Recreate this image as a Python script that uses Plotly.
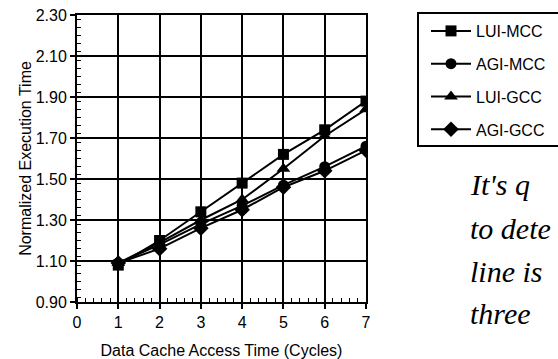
import plotly.graph_objects as go

# Data cache access time (cycles) vs. normalized execution time
cycles = [1, 2, 3, 4, 5, 6, 7]
lui_mcc = [1.08, 1.20, 1.34, 1.48, 1.62, 1.74, 1.88]
agi_mcc = [1.09, 1.18, 1.28, 1.37, 1.47, 1.56, 1.66]
lui_gcc = [1.09, 1.19, 1.30, 1.40, 1.55, 1.71, 1.84]
agi_gcc = [1.09, 1.16, 1.26, 1.35, 1.46, 1.54, 1.64]

series_names = ["LUI-MCC", "AGI-MCC", "LUI-GCC", "AGI-GCC"]
series_values = [lui_mcc, agi_mcc, lui_gcc, agi_gcc]
series_symbols = ["square", "circle", "triangle-up", "diamond"]
series_sizes = [11, 11, 12, 12]

note_lines = ["It's q", "to dete", "line is", "three"]

W, H = 558, 359
L, R, T, B = 77, 366, 15, 302
FONT = "Liberation Sans, Arial, sans-serif"


def px_to_paper(xp, yp):
    return (xp - L) / (R - L), (B - yp) / (B - T)


fig = go.Figure()
for i, (name, vals, sym, sz) in enumerate(zip(series_names, series_values,
                                              series_symbols, series_sizes)):
    fig.add_trace(go.Scatter(
        x=cycles, y=vals, name=name, mode="lines+markers",
        legendgroup=f"g{i}",
        line=dict(color="black", width=2),
        marker=dict(symbol=sym, size=sz, color="black"),
    ))

axis_common = dict(
    showgrid=True, gridcolor="black", gridwidth=1.5,
    showline=True, linecolor="black", linewidth=2, mirror=True,
    ticks="outside", ticklen=5, tickwidth=1.5, tickcolor="black",
    tickfont=dict(family=FONT, size=16, color="black"),
    zeroline=False,
)

fig.update_xaxes(
    range=[0, 7], dtick=1, tick0=0,
    title=dict(text="Data Cache Access Time (Cycles)",
               font=dict(family=FONT, size=16, color="black"), standoff=18),
    minor=dict(ticks="inside", ticklen=4, tickwidth=1, tickcolor="black",
               dtick=0.2, showgrid=False),
    **axis_common,
)
fig.update_yaxes(
    range=[0.9, 2.3], dtick=0.2, tick0=0.9, tickformat=".2f",
    title=dict(text="Normalized Execution Time",
               font=dict(family=FONT, size=16, color="black"), standoff=0),
    minor=dict(ticks="inside", ticklen=4, tickwidth=1, tickcolor="black",
               dtick=0.04, showgrid=False),
    **axis_common,
)

# legend frame runs past the right edge of the page
bx0, by0 = px_to_paper(418, 13)
bx1, by1 = px_to_paper(575, 146)
fig.add_shape(type="rect", xref="paper", yref="paper",
              x0=bx0, y0=by1, x1=bx1, y1=by0,
              line=dict(color="black", width=2), fillcolor="rgba(0,0,0,0)")

lx, ly = px_to_paper(426, 14)
fig.update_layout(
    width=W, height=H,
    margin=dict(l=L, r=W - R, t=T, b=H - B, autoexpand=False),
    paper_bgcolor="white", plot_bgcolor="white",
    font=dict(family=FONT, size=16, color="black"),
    legend=dict(
        x=lx, y=ly, xanchor="left", yanchor="top",
        borderwidth=0, bgcolor="rgba(0,0,0,0)",
        font=dict(family=FONT, size=16, color="black"),
        tracegroupgap=9, itemwidth=40,
    ),
)

# handwritten note in the lower right
note_y = [203, 247, 290, 332]
for text, yb in zip(note_lines, note_y):
    ax, ay = px_to_paper(468, yb)
    fig.add_annotation(
        x=ax, y=ay, xref="paper", yref="paper", xanchor="left", yanchor="bottom",
        text=f"<i>{text}</i>", showarrow=False,
        font=dict(family="Liberation Serif, serif", size=30, color="black"),
    )

fig.write_html("out.html")
